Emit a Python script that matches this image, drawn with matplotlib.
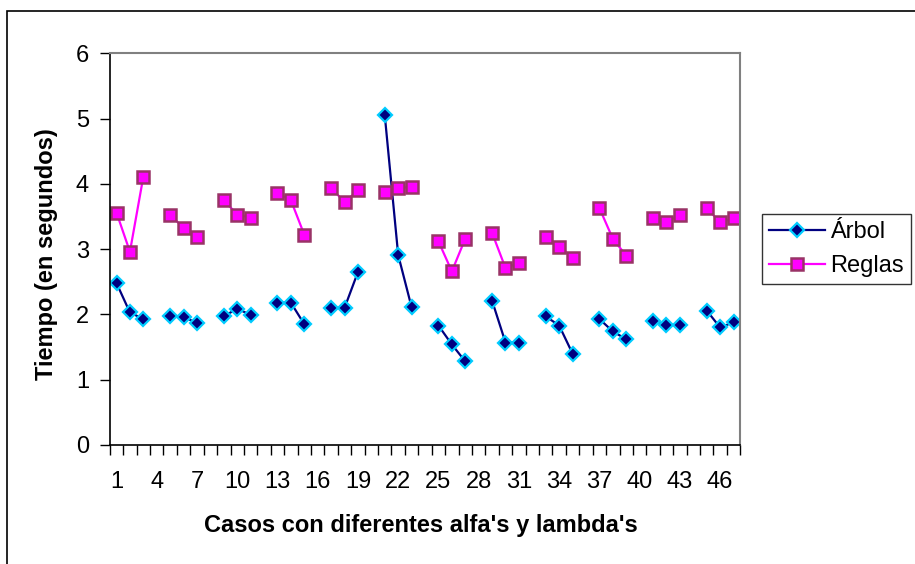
import numpy as np
import matplotlib.pyplot as plt
from matplotlib.patches import Rectangle

plt.rcParams['font.family'] = ['Liberation Sans', 'DejaVu Sans']

nan = np.nan
casos = np.arange(1, 48)
arbol = [2.48, 2.03, 1.93, nan, 1.98, 1.96, 1.87, nan, 1.97, 2.09, 1.99, nan,
         2.18, 2.18, 1.85, nan, 2.10, 2.10, 2.65, nan, 5.05, 2.91, 2.11, nan,
         1.83, 1.54, 1.28, nan, 2.21, 1.57, 1.57, nan, 1.97, 1.83, 1.40, nan,
         1.93, 1.74, 1.62, nan, 1.90, 1.84, 1.84, nan, 2.06, 1.80, 1.88]
reglas = [3.56, 2.96, 4.11, nan, 3.52, 3.33, 3.19, nan, 3.75, 3.53, 3.48, nan,
          3.86, 3.75, 3.22, nan, 3.94, 3.72, 3.90, nan, 3.88, 3.94, 3.95, nan,
          3.12, 2.66, 3.16, nan, 3.25, 2.71, 2.79, nan, 3.19, 3.04, 2.87, nan,
          3.63, 3.16, 2.90, nan, 3.47, 3.42, 3.52, nan, 3.63, 3.41, 3.47]
etiquetas_x = np.arange(1, 48, 3)

fig = plt.figure(figsize=(9.15, 5.64), dpi=100)
ax = fig.add_axes([0.12, 0.211, 0.689, 0.6945])

ax.plot(casos, arbol, color='#000080', lw=1.6, marker='D', ms=7,
        mfc='#000080', mec='#00CCFF', mew=1.6, label='Árbol')
ax.plot(casos, reglas, color='#FF00FF', lw=1.6, marker='s', ms=8.5,
        mfc='#FF00FF', mec='#993366', mew=1.8, label='Reglas')

ax.set_xlim(0.5, 47.5)
ax.set_ylim(0, 6)
ax.set_yticks(range(0, 7))
ax.set_xticks(np.arange(0.5, 48, 1))
ax.set_xticklabels([])
ax.set_xticks(etiquetas_x, minor=True)
ax.set_xticklabels([str(v) for v in etiquetas_x], minor=True)
ax.tick_params(axis='x', which='major', direction='out', length=7, width=1, color='black')
ax.tick_params(axis='x', which='minor', length=0, labelsize=17, pad=19)
ax.tick_params(axis='y', direction='out', length=7, width=1, labelsize=17, pad=8)

for s in ['top', 'right']:
    ax.spines[s].set_color('#808080')
    ax.spines[s].set_linewidth(1.5)
for s in ['left', 'bottom']:
    ax.spines[s].set_color('black')
    ax.spines[s].set_linewidth(1.2)

ax.set_xlabel("Casos con diferentes alfa's y lambda's", fontsize=17, fontweight='bold')
ax.xaxis.set_label_coords(0.494, -0.175)
ax.set_ylabel('Tiempo (en segundos)', fontsize=17, fontweight='bold')
ax.yaxis.set_label_coords(-0.082, 0.488)

leg = fig.legend(loc='center left',
                 bbox_to_anchor=(761.7 / 915, (564 - 287) / 564, 160 / 915, 76 / 564),
                 fontsize=17, frameon=True, fancybox=False, edgecolor='black',
                 handlelength=2.4, borderpad=0.3, labelspacing=0.5, handletextpad=0.2,
                 borderaxespad=0)
leg.get_frame().set_linewidth(1.0)

fig.patches.append(Rectangle((7 / 915, -0.1), 1.2, 1 - 11 / 564 + 0.1,
                             transform=fig.transFigure, fill=False,
                             edgecolor='black', lw=1.2))

fig.savefig('out.png', dpi=100)
